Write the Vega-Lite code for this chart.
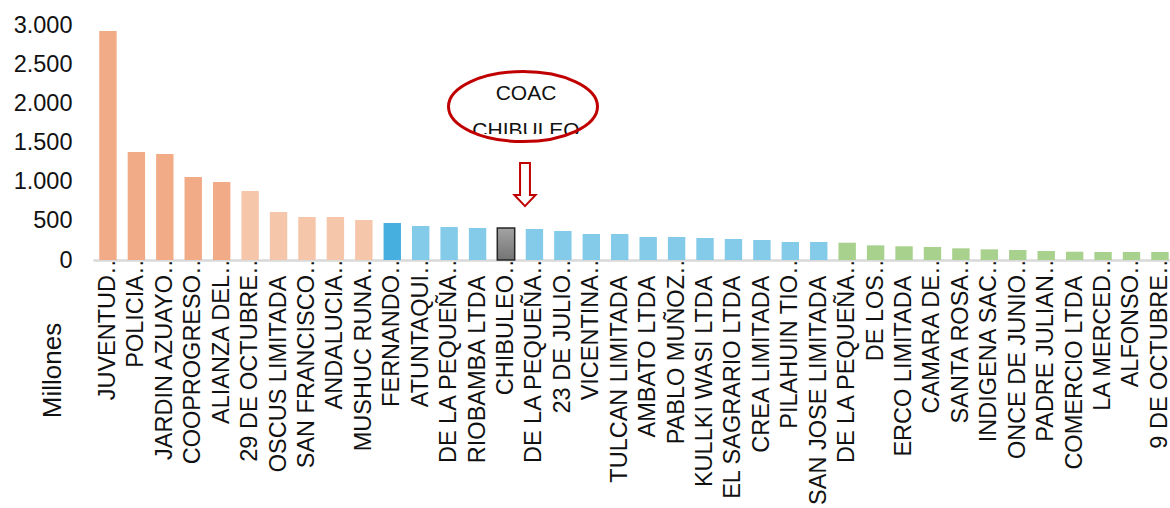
{
  "$schema": "https://vega.github.io/schema/vega-lite/v6.json",
  "autosize": {"type": "none"},
  "padding": {"left": 93, "top": 25, "right": 0, "bottom": 248},
  "width": 1077,
  "height": 235,
  "background": "white",
  "config": {
    "font": "Liberation Sans",
    "view": {"stroke": null}
  },
  "data": {
    "values": [
      {"cooperativa": "01 JUVENTUD…", "valor": 2923, "grupo": "alto"},
      {"cooperativa": "02 POLICIA…", "valor": 1379, "grupo": "alto"},
      {"cooperativa": "03 JARDIN AZUAYO…", "valor": 1354, "grupo": "alto"},
      {"cooperativa": "04 COOPROGRESO…", "valor": 1060, "grupo": "alto"},
      {"cooperativa": "05 ALIANZA DEL…", "valor": 996, "grupo": "alto"},
      {"cooperativa": "06 29 DE OCTUBRE…", "valor": 881, "grupo": "medio alto"},
      {"cooperativa": "07 OSCUS LIMITADA", "valor": 613, "grupo": "medio alto"},
      {"cooperativa": "08 SAN FRANCISCO…", "valor": 549, "grupo": "medio alto"},
      {"cooperativa": "09 ANDALUCIA…", "valor": 549, "grupo": "medio alto"},
      {"cooperativa": "10 MUSHUC RUNA…", "valor": 511, "grupo": "medio alto"},
      {"cooperativa": "11 FERNANDO…", "valor": 472, "grupo": "destacado"},
      {"cooperativa": "12 ATUNTAQUI…", "valor": 434, "grupo": "medio"},
      {"cooperativa": "13 DE LA PEQUEÑA…", "valor": 421, "grupo": "medio"},
      {"cooperativa": "14 RIOBAMBA LTDA", "valor": 409, "grupo": "medio"},
      {"cooperativa": "15 CHIBULEO…", "valor": 408, "grupo": "referencia"},
      {"cooperativa": "16 DE LA PEQUEÑA…", "valor": 396, "grupo": "medio"},
      {"cooperativa": "17 23 DE JULIO…", "valor": 370, "grupo": "medio"},
      {"cooperativa": "18 VICENTINA…", "valor": 332, "grupo": "medio"},
      {"cooperativa": "19 TULCAN LIMITADA", "valor": 332, "grupo": "medio"},
      {"cooperativa": "20 AMBATO LTDA", "valor": 294, "grupo": "medio"},
      {"cooperativa": "21 PABLO MUÑOZ…", "valor": 294, "grupo": "medio"},
      {"cooperativa": "22 KULLKI WASI LTDA", "valor": 281, "grupo": "medio"},
      {"cooperativa": "23 EL SAGRARIO LTDA", "valor": 268, "grupo": "medio"},
      {"cooperativa": "24 CREA LIMITADA", "valor": 255, "grupo": "medio"},
      {"cooperativa": "25 PILAHUIN TIO…", "valor": 230, "grupo": "medio"},
      {"cooperativa": "26 SAN JOSE LIMITADA", "valor": 230, "grupo": "medio"},
      {"cooperativa": "27 DE LA PEQUEÑA…", "valor": 221, "grupo": "bajo"},
      {"cooperativa": "28 DE LOS…", "valor": 187, "grupo": "bajo"},
      {"cooperativa": "29 ERCO LIMITADA", "valor": 175, "grupo": "bajo"},
      {"cooperativa": "30 CAMARA DE…", "valor": 166, "grupo": "bajo"},
      {"cooperativa": "31 SANTA ROSA…", "valor": 149, "grupo": "bajo"},
      {"cooperativa": "32 INDIGENA SAC…", "valor": 136, "grupo": "bajo"},
      {"cooperativa": "33 ONCE DE JUNIO…", "valor": 128, "grupo": "bajo"},
      {"cooperativa": "34 PADRE JULIAN…", "valor": 115, "grupo": "bajo"},
      {"cooperativa": "35 COMERCIO LTDA", "valor": 106, "grupo": "bajo"},
      {"cooperativa": "36 LA MERCED…", "valor": 102, "grupo": "bajo"},
      {"cooperativa": "37 ALFONSO…", "valor": 102, "grupo": "bajo"},
      {"cooperativa": "38 9 DE OCTUBRE…", "valor": 102, "grupo": "bajo"}
    ]
  },
  "encoding": {
    "x": {
      "field": "cooperativa",
      "type": "nominal",
      "sort": null,
      "scale": {"paddingInner": 0.388, "paddingOuter": 0.134, "align": 0.82},
      "axis": {
        "title": null,
        "labelAngle": -90,
        "labelAlign": "right",
        "labelBaseline": "middle",
        "labelFontSize": 23.5,
        "labelColor": "#111111",
        "labelLimit": 600,
        "labelPadding": {
          "condition": {"test": "slice(datum.value, -1) == '…'", "value": -9},
          "value": 15
        },
        "labelExpr": "substring(datum.value, 3)",
        "ticks": false,
        "tickSize": 0,
        "domainColor": "#D9D9D9",
        "domainWidth": 2.3,
        "grid": false
      }
    },
    "y": {
      "field": "valor",
      "type": "quantitative",
      "scale": {"domain": [0, 3000], "nice": false},
      "axis": {
        "values": [0, 500, 1000, 1500, 2000, 2500, 3000],
        "labelExpr": "replace(format(datum.value, ','), ',', '.')",
        "labelFontSize": 23.5,
        "labelColor": "#111111",
        "labelPadding": 21,
        "ticks": false,
        "domain": false,
        "grid": false,
        "title": "Millones",
        "titleFontSize": 26,
        "titleFontWeight": "normal",
        "titleColor": "#111111",
        "titleAngle": -90,
        "titleAlign": "center",
        "titleBaseline": "alphabetic",
        "titleX": -33,
        "titleY": 345
      }
    }
  },
  "layer": [
    {
      "mark": {"type": "bar"},
      "encoding": {
        "color": {
          "field": "grupo",
          "type": "nominal",
          "legend": null,
          "scale": {
            "domain": ["alto", "medio alto", "destacado", "medio", "referencia", "bajo"],
            "range": ["#F1AB86", "#F6C6AA", "#47AFE0", "#84CBEA", "#8C8C8C", "#A8D18D"]
          }
        }
      }
    },
    {
      "transform": [{"filter": "datum.grupo == 'referencia'"}],
      "mark": {
        "type": "bar",
        "fill": {
          "gradient": "linear",
          "x1": 0, "y1": 0, "x2": 0, "y2": 1,
          "stops": [
            {"offset": 0, "color": "#A3A3A3"},
            {"offset": 1, "color": "#747474"}
          ]
        },
        "stroke": "#262626",
        "strokeWidth": 1.5
      }
    },
    {
      "transform": [{"filter": "datum.grupo == 'referencia'"}],
      "mark": {"type": "text", "fontSize": 21, "color": "#111111", "baseline": "alphabetic", "align": "center", "xOffset": 20},
      "encoding": {
        "y": {"datum": 2043},
        "text": {"value": "COAC"}
      }
    },
    {
      "transform": [{"filter": "datum.grupo == 'referencia'"}],
      "mark": {"type": "text", "fontSize": 21, "color": "#111111", "baseline": "alphabetic", "align": "center", "xOffset": 20},
      "encoding": {
        "y": {"datum": 1574},
        "text": {"value": "CHIBULEO"}
      }
    },
    {
      "transform": [{"filter": "datum.grupo == 'referencia'"}],
      "mark": {"type": "bar", "color": "white", "width": 120, "xOffset": 20},
      "encoding": {
        "y": {"datum": 1608},
        "y2": {"datum": 1404}
      }
    },
    {
      "transform": [{"filter": "datum.grupo == 'referencia'"}],
      "mark": {
        "type": "point",
        "shape": "M 1 0 C 1 0.26 0.552 0.47 0 0.47 C -0.552 0.47 -1 0.26 -1 0 C -1 -0.26 -0.552 -0.47 0 -0.47 C 0.552 -0.47 1 -0.26 1 0 Z",
        "size": 22201,
        "filled": false,
        "stroke": "#C00000",
        "strokeWidth": 3,
        "opacity": 1,
        "xOffset": 17
      },
      "encoding": {
        "y": {"datum": 1959}
      }
    },
    {
      "transform": [{"filter": "datum.grupo == 'referencia'"}],
      "mark": {
        "type": "point",
        "shape": "M -0.22 -0.96 L 0.22 -0.96 L 0.22 0.47 L 0.47 0.47 L 0 0.96 L -0.47 0.47 L -0.22 0.47 Z",
        "size": 2025,
        "filled": true,
        "fill": "white",
        "stroke": "#C00000",
        "strokeWidth": 2,
        "opacity": 1,
        "xOffset": 19
      },
      "encoding": {
        "y": {"datum": 964}
      }
    }
  ]
}
